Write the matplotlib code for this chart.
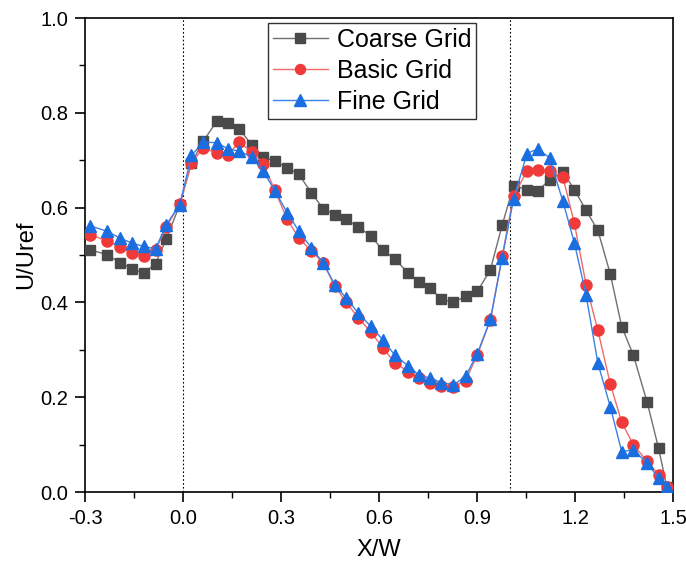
import matplotlib
matplotlib.use("Agg")
import matplotlib.pyplot as plt
from matplotlib.ticker import MultipleLocator

plt.rcParams['font.family'] = ['Liberation Sans', 'DejaVu Sans']

x = [-0.286, -0.232, -0.194, -0.156, -0.120, -0.084, -0.051, -0.010, 0.026, 0.062,
     0.103, 0.138, 0.172, 0.210, 0.245, 0.281, 0.319, 0.355, 0.393, 0.429,
     0.465, 0.500, 0.536, 0.574, 0.612, 0.648, 0.689, 0.722, 0.757, 0.791,
     0.828, 0.865, 0.901, 0.941, 0.977, 1.012, 1.053, 1.086, 1.122, 1.163,
     1.198, 1.234, 1.270, 1.308, 1.343, 1.379, 1.421, 1.456, 1.481]

coarse = [0.511, 0.501, 0.484, 0.471, 0.462, 0.482, 0.534, 0.606, 0.694, 0.740,
          0.782, 0.779, 0.766, 0.733, 0.707, 0.698, 0.684, 0.670, 0.631, 0.598,
          0.585, 0.575, 0.559, 0.541, 0.510, 0.492, 0.462, 0.444, 0.430, 0.407,
          0.400, 0.413, 0.423, 0.469, 0.563, 0.646, 0.638, 0.636, 0.658, 0.675,
          0.638, 0.594, 0.552, 0.460, 0.349, 0.288, 0.189, 0.092, 0.011]

basic = [0.543, 0.530, 0.517, 0.504, 0.497, 0.511, 0.559, 0.608, 0.694, 0.726,
         0.715, 0.712, 0.738, 0.718, 0.693, 0.637, 0.575, 0.536, 0.508, 0.484,
         0.434, 0.400, 0.368, 0.338, 0.304, 0.273, 0.254, 0.240, 0.230, 0.224,
         0.222, 0.235, 0.289, 0.363, 0.497, 0.625, 0.677, 0.679, 0.677, 0.664,
         0.567, 0.437, 0.341, 0.228, 0.147, 0.099, 0.065, 0.036, 0.011]

fine = [0.562, 0.550, 0.536, 0.525, 0.518, 0.513, 0.564, 0.606, 0.710, 0.738,
        0.737, 0.724, 0.719, 0.707, 0.677, 0.636, 0.589, 0.550, 0.515, 0.483,
        0.437, 0.409, 0.378, 0.350, 0.321, 0.289, 0.266, 0.247, 0.240, 0.231,
        0.226, 0.244, 0.292, 0.364, 0.494, 0.618, 0.714, 0.724, 0.705, 0.613,
        0.526, 0.415, 0.272, 0.180, 0.085, 0.089, 0.061, 0.029, 0.010]

labels = ['Coarse Grid', 'Basic Grid', 'Fine Grid']
xticks = [-0.3, 0.0, 0.3, 0.6, 0.9, 1.2, 1.5]
yticks = [0.0, 0.2, 0.4, 0.6, 0.8, 1.0]
vlines = [0.0, 1.0]

fig = plt.figure(figsize=(6.86, 5.67), dpi=100)
ax = fig.add_axes([85/686, 75/567, 588/686, 474/567])

ax.plot(x, coarse, color='#707070', lw=1.0, marker='s', ms=7.5,
        mfc='#4a4a4a', mec='#4a4a4a', label=labels[0], zorder=3)
ax.plot(x, basic, color='#f26a6a', lw=1.0, marker='o', ms=8,
        mfc='#f03a3a', mec='#f03a3a', label=labels[1], zorder=4)
ax.plot(x, fine, color='#3a80e8', lw=1.0, marker='^', ms=9,
        mfc='#1a6ee0', mec='#1a6ee0', label=labels[2], zorder=5)

for v in vlines:
    ax.axvline(v, color='black', lw=0.8, ls=(0, (1.5, 2)), zorder=1)

ax.set_xlim(-0.3, 1.5)
ax.set_ylim(0.0, 1.0)
ax.set_xticks(xticks)
ax.set_yticks(yticks)
ax.set_xticklabels([f'{t:.1f}' for t in xticks])
ax.set_yticklabels([f'{t:.1f}' for t in yticks])
ax.xaxis.set_minor_locator(MultipleLocator(0.15))
ax.yaxis.set_minor_locator(MultipleLocator(0.1))
ax.tick_params(which='major', direction='out', length=7, width=1.2,
               labelsize=14.5, pad=5, top=False, right=False)
ax.tick_params(which='minor', direction='out', length=4, width=1.0,
               top=False, right=False)
for s in ax.spines.values():
    s.set_linewidth(1.2)

ax.set_xlabel('X/W', fontsize=17, labelpad=8)
ax.set_ylabel('U/Uref', fontsize=17, labelpad=2)

leg = ax.legend(loc='upper left', bbox_to_anchor=(0.311, 0.99), fontsize=18,
                frameon=True, fancybox=False, edgecolor='black',
                handlelength=2.2, borderpad=0.2, labelspacing=0.28,
                handletextpad=0.35, borderaxespad=0, markerscale=0.9)
leg.get_frame().set_linewidth(1.0)

fig.savefig('out.png', dpi=100)
